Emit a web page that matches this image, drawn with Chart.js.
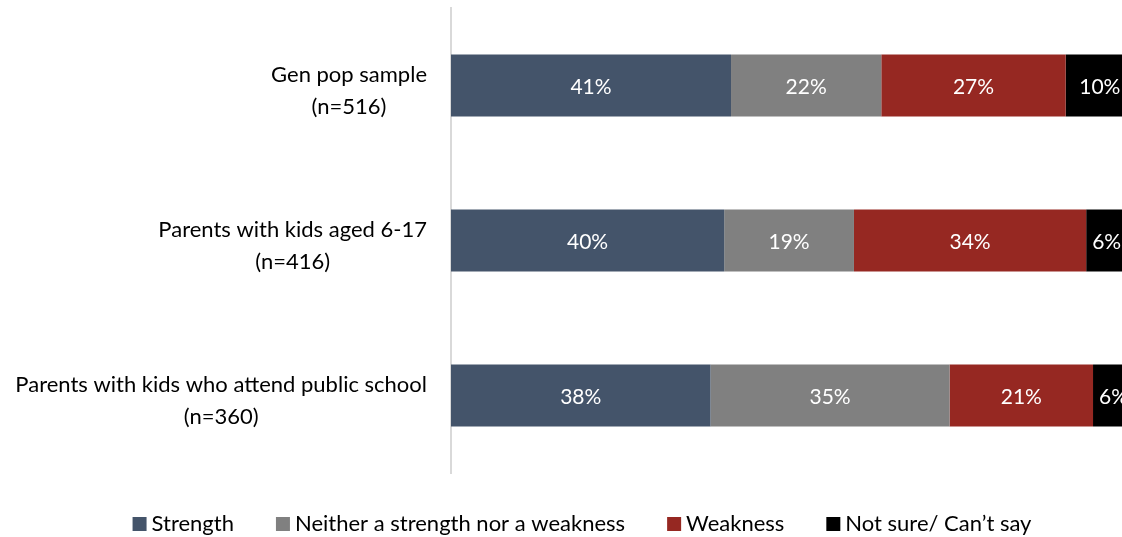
<!DOCTYPE html>
<html>
<head>
<meta charset="utf-8">
<script src="https://cdn.jsdelivr.net/npm/chart.js@4.4.1/dist/chart.umd.min.js"></script>
<style>
  html, body { margin: 0; padding: 0; background: #fff; overflow: hidden; }
  #wrap { width: 1134px; height: 537px; }
</style>
</head>
<body>
<div id="wrap"><canvas id="chart" width="1134" height="537"></canvas></div>
<script>
const categories = [
    ["Gen pop sample", "(n=516)"],
    ["Parents with kids aged 6-17", "(n=416)"],
    ["Parents with kids who attend public school", "(n=360)"]
];
const seriesNames = ["Strength", "Neither a strength nor a weakness", "Weakness", "Not sure/ Can\u2019t say"];
const strength = [41, 40, 38];
const neither = [22, 19, 35];
const weakness = [27, 34, 21];
const notSure = [10, 6, 6];
const colours = ["#44546A", "#808080", "#962822", "#000000"];

const FONT = "Lato, 'Open Sans', sans-serif";

// category labels: block right-aligned, lines centred inside it (like Excel)
const categoryLabels = {
    id: 'categoryLabels',
    afterDraw(chart) {
        const ctx = chart.ctx;
        const yScale = chart.scales.y;
        const right = chart.chartArea.left - 24;
        ctx.save();
        ctx.font = "22px " + FONT;
        ctx.fillStyle = "#000";
        ctx.textBaseline = "alphabetic";
        ctx.textAlign = "center";
        categories.forEach((lines, i) => {
            const widest = Math.max(...lines.map(l => ctx.measureText(l).width));
            const cx = right - widest / 2;
            const cy = yScale.getPixelForValue(i);
            ctx.fillText(lines[0], cx, cy - 4);
            ctx.fillText(lines[1], cx, cy + 28);
        });
        ctx.restore();
    }
};

// percentage labels inside each segment
const valueLabels = {
    id: 'valueLabels',
    afterDatasetsDraw(chart) {
        const ctx = chart.ctx;
        ctx.save();
        ctx.font = "21px " + FONT;
        ctx.fillStyle = "#fff";
        ctx.textAlign = "center";
        ctx.textBaseline = "alphabetic";
        chart.data.datasets.forEach((ds, di) => {
            chart.getDatasetMeta(di).data.forEach((bar, i) => {
                const cx = (bar.x + bar.base) / 2;
                ctx.fillText(ds.data[i] + "%", cx, bar.y + 8);
            });
        });
        ctx.restore();
    }
};

// legend drawn like the Excel one: small square, short gap, text
const bottomLegend = {
    id: 'bottomLegend',
    afterDraw(chart) {
        const ctx = chart.ctx;
        const box = 14, gap = 5, itemGap = 42, centre = 582, baseline = 531;
        ctx.save();
        ctx.font = "22px " + FONT;
        const widths = seriesNames.map(n => ctx.measureText(n).width);
        const total = widths.reduce((a, w) => a + box + gap + w, 0) + itemGap * (seriesNames.length - 1);
        let x = centre - total / 2;
        ctx.textAlign = "left";
        ctx.textBaseline = "alphabetic";
        seriesNames.forEach((n, i) => {
            ctx.fillStyle = colours[i];
            ctx.fillRect(x, baseline - 14, box, box);
            ctx.fillStyle = "#000";
            ctx.fillText(n, x + box + gap, baseline);
            x += box + gap + widths[i] + itemGap;
        });
        ctx.restore();
    }
};

const data = [strength, neither, weakness, notSure];

new Chart(document.getElementById('chart'), {
    type: 'bar',
    data: {
        labels: categories.map(c => c.join(' ')),
        datasets: seriesNames.map((name, i) => ({
            label: name,
            data: data[i],
            backgroundColor: colours[i],
            borderWidth: 0,
            barPercentage: 0.4,
            categoryPercentage: 1
        }))
    },
    options: {
        indexAxis: 'y',
        responsive: false,
        animation: false,
        layout: { padding: { top: 8, left: 0, right: 0, bottom: 64 } },
        scales: {
            x: {
                stacked: true,
                min: 0,
                max: 100,
                display: false
            },
            y: {
                stacked: true,
                ticks: { display: false },
                grid: { display: false, drawTicks: false },
                border: { display: true, color: "#d9d9d9", width: 2 },
                afterFit(scale) { scale.width = 451; }
            }
        },
        plugins: {
            legend: { display: false },
            tooltip: { enabled: false }
        }
    },
    plugins: [categoryLabels, valueLabels, bottomLegend]
});
</script>
</body>
</html>
